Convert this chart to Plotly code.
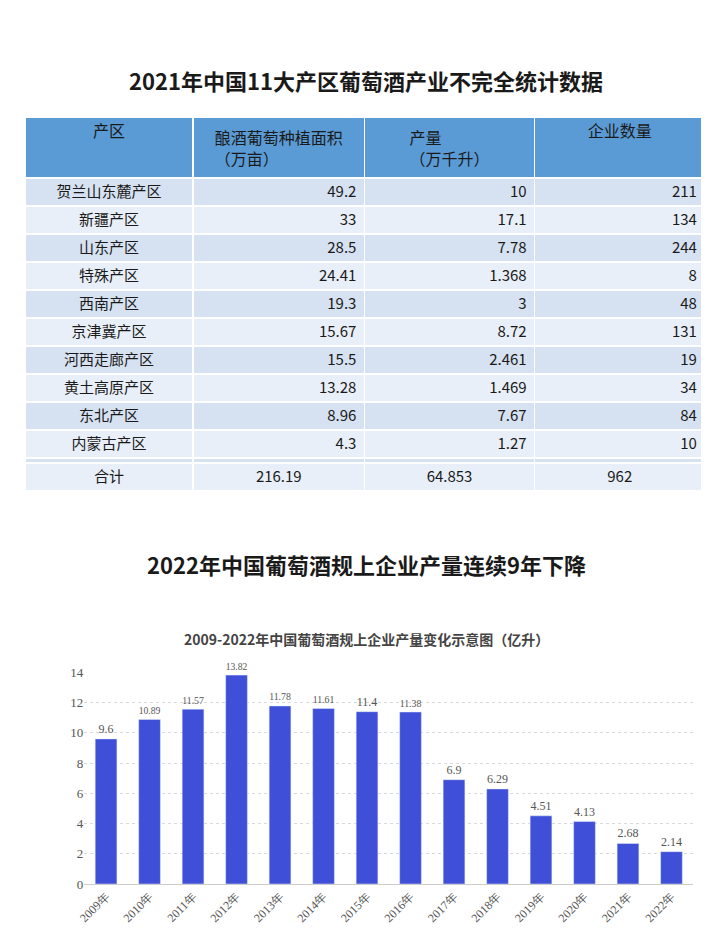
import plotly.graph_objects as go

regions = ["贺兰山东麓产区", "新疆产区", "山东产区", "特殊产区", "西南产区", "京津冀产区",
           "河西走廊产区", "黄土高原产区", "东北产区", "内蒙古产区", "黄河故道产区"]
area = ["49.2", "33", "28.5", "24.41", "19.3", "15.67", "15.5", "13.28", "8.96", "4.3", "4.07"]
output = ["10", "17.1", "7.78", "1.368", "3", "8.72", "2.461", "1.469", "7.67", "1.27", "4.015"]
firms = ["211", "134", "244", "8", "48", "131", "19", "34", "84", "10", "29"]
total = ["合计", "216.19", "64.853", "962"]
headers = ["产区", "酿酒葡萄种植面积<br>（万亩）", "产量<br>（万千升）", "企业数量"]

years = [f"{y}年" for y in range(2009, 2023)]
prod = [9.6, 10.89, 11.57, 13.82, 11.78, 11.61, 11.4, 11.38, 6.9, 6.29, 4.51, 4.13, 2.68, 2.14]

H = 945
FONT = "Noto Sans CJK SC"
HEAD_BLUE = "#5b9bd5"
ROW_A = "#d6e2f1"
ROW_B = "#e9eff8"
TOP = 104  # table top, px (compensates plotly's table offset)

fig = go.Figure()

# ── table body ──────────────────────────────────────────────
fills = [ROW_A if i % 2 == 0 else ROW_B for i in range(len(regions))]
body_bottom = TOP + 57 + 11 * 28 + 4
fig.add_trace(go.Table(
    domain=dict(x=[10 / 709, 697 / 709], y=[1 - body_bottom / H, 1 - TOP / H]),
    columnwidth=[170, 173, 172, 172],
    header=dict(values=headers, fill_color=HEAD_BLUE,
                line_color="white", line_width=1.5, align="center", height=57,
                font=dict(family=FONT, size=16, color="#1a1a1a")),
    cells=dict(values=[regions, area, output, firms], fill_color=[fills] * 4,
               line_color="white", line_width=1.5, align=["center", "right", "right", "right"],
               height=28, font=dict(family=FONT, size=15, color="#1a1a1a")),
))
# total row
fig.add_trace(go.Table(
    domain=dict(x=[10 / 709, 697 / 709], y=[1 - (body_bottom + 30) / H, 1 - (body_bottom - 18) / H]),
    columnwidth=[170, 173, 172, 172],
    header=dict(values=total, fill_color=ROW_B, line_color="white", line_width=1.5,
                align="center", height=28, font=dict(family=FONT, size=15, color="#1a1a1a")),
    cells=dict(values=[[] for _ in total]),
))

# ── bar chart ──────────────────────────────────────────────
fig.add_trace(go.Bar(
    x=years, y=prod, marker_color="#3f4fd8", width=0.5,
    text=[f"{v:g}" for v in prod], textposition="outside", cliponaxis=False,
    textfont=dict(family="Liberation Serif", size=12, color="#555"),
))

fig.update_layout(
    width=709, height=H, margin=dict(l=0, r=0, t=0, b=0),
    paper_bgcolor="white", plot_bgcolor="white", showlegend=False,
    xaxis=dict(domain=[70 / 709, 685 / 709], anchor="y", tickangle=-45,
               tickfont=dict(family="Liberation Serif", size=12, color="#555"),
               showline=True, linecolor="#ccc", ticks=""),
    yaxis=dict(domain=[1 - 883 / H, 1 - 668 / H], range=[0, 14], dtick=2, anchor="x",
               gridcolor="#d9d9d9", griddash="dot", zeroline=False,
               tickfont=dict(family="Liberation Serif", size=13, color="#555")),
    annotations=[
        dict(text="<b>2021年中国11大产区葡萄酒产业不完全统计数据</b>", x=0.5, y=1 - 66 / H,
             xref="paper", yref="paper", showarrow=False, yanchor="middle",
             font=dict(family=FONT, size=22, color="#1a1a1a")),
        dict(text="<b>2022年中国葡萄酒规上企业产量连续9年下降</b>", x=0.5, y=1 - 558 / H,
             xref="paper", yref="paper", showarrow=False, yanchor="middle",
             font=dict(family=FONT, size=22, color="#1a1a1a")),
        dict(text="<b>2009-2022年中国葡萄酒规上企业产量变化示意图（亿升）</b>", x=0.5, y=1 - 634 / H,
             xref="paper", yref="paper", showarrow=False, yanchor="middle",
             font=dict(family=FONT, size=14, color="#444")),
    ],
)

fig.write_html("out.html")
